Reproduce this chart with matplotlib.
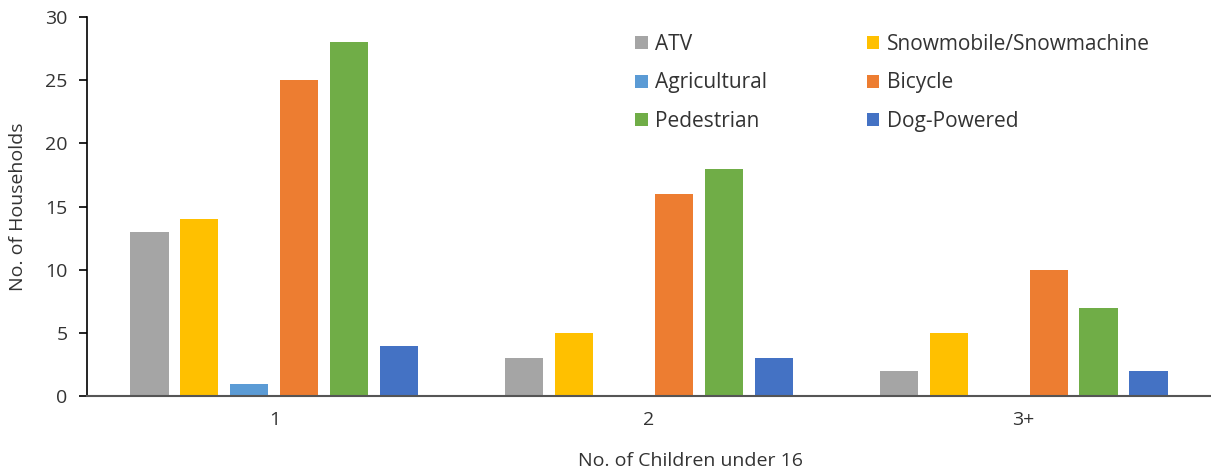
import numpy as np
import matplotlib.pyplot as plt

plt.rcParams['font.family'] = ['Open Sans', 'DejaVu Sans']

groups = ['1', '2', '3+']
series = ['ATV', 'Snowmobile/Snowmachine', 'Agricultural', 'Bicycle', 'Pedestrian', 'Dog-Powered']
atv = [13, 3, 2]
snowmobile = [14, 5, 5]
agricultural = [1, 0, 0]
bicycle = [25, 16, 10]
pedestrian = [28, 18, 7]
dog_powered = [4, 3, 2]
colors = ['#A5A5A5', '#FFC000', '#5B9BD5', '#ED7D31', '#70AD47', '#4472C4']

values = [atv, snowmobile, agricultural, bicycle, pedestrian, dog_powered]

fig = plt.figure(figsize=(12.11, 4.70), dpi=100)
ax = fig.add_axes([0.0718, 0.157, 0.9282, 0.807])

x = np.arange(len(groups))
slot = 0.1333
width = 0.102
handles = []
for i, (name, vals, c) in enumerate(zip(series, values, colors)):
    h = ax.bar(x + (i - 2.5) * slot, vals, width, color=c, label=name)
    handles.append(h)

ax.set_xlim(-0.5, 2.5)
ax.set_ylim(0, 30)
ax.set_yticks(range(0, 31, 5))
ax.set_xticks(x)
ax.set_xticklabels(groups)
ax.tick_params(axis='x', length=0, pad=11, labelsize=14, labelcolor='#333333')
ax.tick_params(axis='y', length=6, width=1.2, pad=8, labelsize=14, colors='black', labelcolor='#333333')

for s in ['top', 'right']:
    ax.spines[s].set_visible(False)
ax.spines['left'].set_color('black')
ax.spines['left'].set_linewidth(1.2)
ax.spines['bottom'].set_color('#555555')
ax.spines['bottom'].set_linewidth(1.5)

ax.set_ylabel('No. of Households', fontsize=14, color='#333333', labelpad=13)
ax.set_xlabel('No. of Children under 16', fontsize=14, color='#333333', labelpad=16)
ax.xaxis.label.set_x(0.537)

order = [0, 2, 4, 1, 3, 5]
ax.legend([handles[k] for k in order], [series[k] for k in order], ncol=2,
          loc='upper left', bbox_to_anchor=(0.471, 1.005), frameon=False,
          fontsize=15, handlelength=0.6, handleheight=0.6, handletextpad=0.35,
          columnspacing=4.8, labelspacing=0.85, labelcolor='#333333')

fig.savefig('out.png', dpi=100)
